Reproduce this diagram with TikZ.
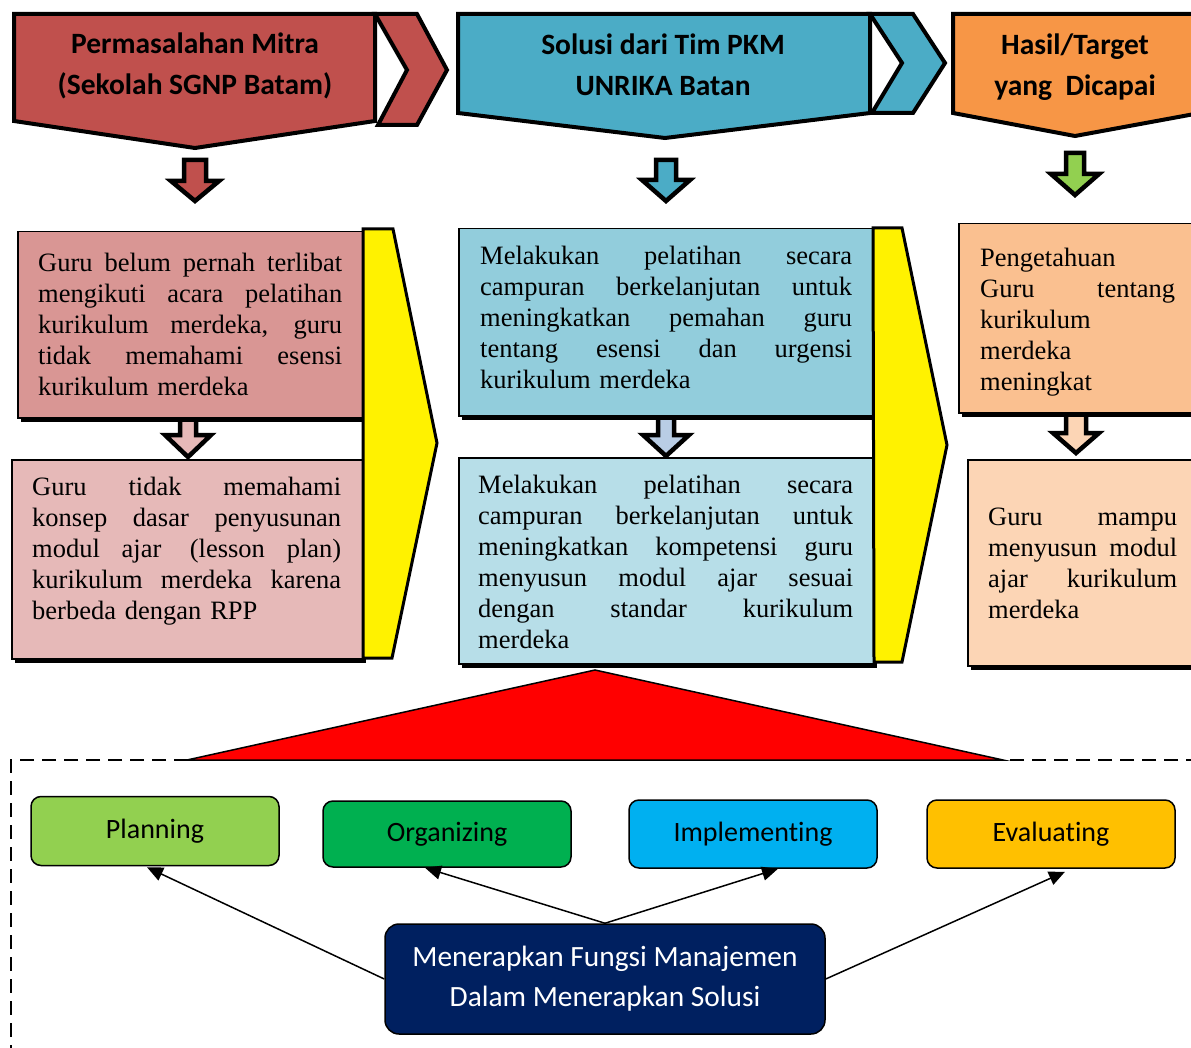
\documentclass[tikz,border=0pt]{standalone}
\usepackage{fontspec}
\setmainfont{Liberation Serif}
\newfontfamily\calibri[Ligatures=NoCommon]{Carlito}
\usetikzlibrary{arrows.meta,shadows,calc}

\definecolor{hdrred}{HTML}{C0504D}
\definecolor{hdrblue}{HTML}{4BACC6}
\definecolor{hdrorange}{HTML}{F79646}
\definecolor{arrgreen}{HTML}{92D050}
\definecolor{pinkA}{HTML}{D99694}
\definecolor{pinkB}{HTML}{E6B9B8}
\definecolor{blueA}{HTML}{92CDDC}
\definecolor{blueB}{HTML}{B7DEE8}
\definecolor{blueC}{HTML}{B9CDE5}
\definecolor{orangeA}{HTML}{FAC090}
\definecolor{orangeB}{HTML}{FCD5B5}
\definecolor{fplan}{HTML}{92D050}
\definecolor{forg}{HTML}{00B050}
\definecolor{fimpl}{HTML}{00B0F0}
\definecolor{feval}{HTML}{FFC000}
\definecolor{navy}{HTML}{002060}

\newcommand{\jline}[1]{\leavevmode\hbox to \hsize{\spaceskip=0.25em plus 1fil\relax #1}}

\begin{document}
\begin{tikzpicture}[x=1pt, y=-1pt, line join=miter, >={Triangle[length=16pt,width=14pt]},
	hdr/.style={draw, line width=4pt},
	hdrtext/.style={font=\calibri\bfseries\fontsize{29.5}{41}\selectfont, align=center},
	blk/.style={draw, line width=4.5pt},
	bx/.style={draw, line width=1.5pt, anchor=north west, inner sep=0pt,
		drop shadow={shadow xshift=3pt, shadow yshift=-4pt, fill=black, opacity=1}},
	txt/.style={anchor=north west, inner sep=0pt, align=left,
		font=\fontsize{26.5}{31}\selectfont},
	yel/.style={draw, line width=3pt, fill=yellow},
	fn/.style={draw, line width=1.5pt, rounded corners=10pt, minimum width=248pt,
		font=\calibri\fontsize{28}{40}\selectfont},
	conn/.style={->, line width=1.5pt}]
	\useasboundingbox (0,0) rectangle (1191,1048);
	\clip (0,0) rectangle (1191,1048);
	
	% headers
	\draw[hdr, fill=hdrred] (14,14)--(375,14)--(375,121)--(195,148)--(14,121)--cycle;
	\draw[hdr, fill=hdrred] (375,14)--(417,14)--(447,70)--(417,125)--(378,125)--(407,70)--cycle;
	\draw[hdr, fill=hdrblue] (458,14)--(870,14)--(870,113)--(665,138)--(458,113)--cycle;
	\draw[hdr, fill=hdrblue] (870,14)--(913,14)--(945,63)--(913,113)--(872,113)--(902,63)--cycle;
	\draw[hdr, fill=hdrorange] (953,14)--(1200,14)--(1200,113)--(1075,136)--(953,113)--cycle;
	\node[hdrtext] (masalah) at (195,66) {Permasalahan Mitra\\(Sekolah SGNP Batam)};
	\node[hdrtext] (solusi) at (663,65) {Solusi dari Tim PKM\\UNRIKA Batan};
	\node[hdrtext] (hasil) at (1075,67) {Hasil/Target\\yang~ Dicapai};
	
	% block arrows
	\foreach \x/\ya/\yb/\yc/\sw/\hw/\col in {195/160/181/201/11/24/hdrred,666/160/180/201/10/24/hdrblue,
		1075/153/174/195/9/24/arrgreen,188/417/435/457/8/23/pinkB,666/415/435/456/8/23/blueC,1076/412/433/453/10/23/orangeB}{
		\draw[blk, fill=\col] (\x-\sw,\ya)--(\x+\sw,\ya)--(\x+\sw,\yb)--(\x+\hw,\yb)--(\x,\yc)
			--(\x-\hw,\yb)--(\x-\sw,\yb)--cycle;
	}
	
	% boxes
	\node[bx, fill=pinkA, minimum width=346pt, minimum height=186pt] (a1) at (17,231) {};
	\node[bx, fill=pinkB, minimum width=351pt, minimum height=199pt] (a2) at (11,459) {};
	\node[bx, fill=blueA, minimum width=414pt, minimum height=187pt] (b1) at (458,228) {};
	\node[bx, fill=blueB, minimum width=415pt, minimum height=206pt] (b2) at (458,457) {};
	\node[bx, fill=orangeA, minimum width=250pt, minimum height=189pt] (c1) at (958,223) {};
	\node[bx, fill=orangeB, minimum width=240pt, minimum height=206pt] (c2) at (967,459) {};
	
	\node[txt, text width=304pt] (a1t) at ($(a1.north west)+(21,22)$)
		{\jline{Guru belum pernah terlibat}\\\jline{mengikuti acara pelatihan}\\
		\jline{kurikulum merdeka, guru}\\\jline{tidak memahami esensi}\\kurikulum merdeka};
	\node[txt, text width=309pt] (a2t) at ($(a2.north west)+(21,18)$)
		{\jline{Guru tidak memahami}\\\jline{konsep dasar penyusunan}\\
		\jline{modul ajar \hskip 0.25em (lesson plan)}\\\jline{kurikulum merdeka karena}\\berbeda dengan RPP};
	\node[txt, text width=372pt] (b1t) at ($(b1.north west)+(22,18)$)
		{\jline{Melakukan pelatihan secara}\\\jline{campuran berkelanjutan untuk}\\
		\jline{meningkatkan pemahan guru}\\\jline{tentang esensi dan urgensi}\\kurikulum merdeka};
	\node[txt, text width=375pt] (b2t) at ($(b2.north west)+(20,18)$)
		{\jline{Melakukan pelatihan secara}\\\jline{campuran berkelanjutan untuk}\\
		\jline{meningkatkan kompetensi guru}\\\jline{menyusun modul ajar sesuai}\\
		\jline{dengan standar kurikulum}\\merdeka};
	\node[txt, text width=195pt] (c1t) at ($(c1.north west)+(22,25)$)
		{Pengetahuan\\\jline{Guru tentang}\\kurikulum\\merdeka\\meningkat};
	\node[txt, text width=189pt] (c2t) at ($(c2.north west)+(21,49)$)
		{\jline{Guru mampu}\\\jline{menyusun modul}\\\jline{ajar kurikulum}\\merdeka};
	
	% yellow arrows
	\draw[yel] (363,229)--(393,229)--(437,443)--(392,658)--(363,658)--cycle;
	\draw[yel] (873,228)--(902,228)--(947,445)--(902,662)--(874,662)--cycle;
	
	% management part
	\draw[line width=1.8pt, dash pattern=on 14pt off 8pt] (1200,760)--(11,760)--(11,1060);
	\draw[line width=1.5pt, fill=red] (595,670)--(1003,760)--(187,760)--cycle;
	
	\node[fn, fill=fplan, minimum height=69pt] (plan) at (155,831) {Planning};
	\node[fn, fill=forg, minimum height=66pt] (org) at (447,834) {Organizing};
	\node[fn, fill=fimpl, minimum height=68pt] (impl) at (753,834) {Implementing};
	\node[fn, fill=feval, minimum height=68pt] (eval) at (1051,834) {Evaluating};
	\node[fn, fill=navy, text=white, align=center, rounded corners=14pt, minimum width=440pt,
		minimum height=110pt, font=\calibri\fontsize{29.4}{40}\selectfont] (mgmt) at (605,979)
		{Menerapkan Fungsi Manajemen\\Dalam Menerapkan Solusi};
	
	\draw[conn] (mgmt.west) -- ($(plan.south)+(-8,1)$);
	\draw[conn] (mgmt.north) -- ($(org.south)+(-22,0)$);
	\draw[conn] (mgmt.north) -- ($(impl.south)+(25,0)$);
	\draw[conn] (mgmt.east) -- ($(eval.south)+(14,3)$);
\end{tikzpicture}
\end{document}
